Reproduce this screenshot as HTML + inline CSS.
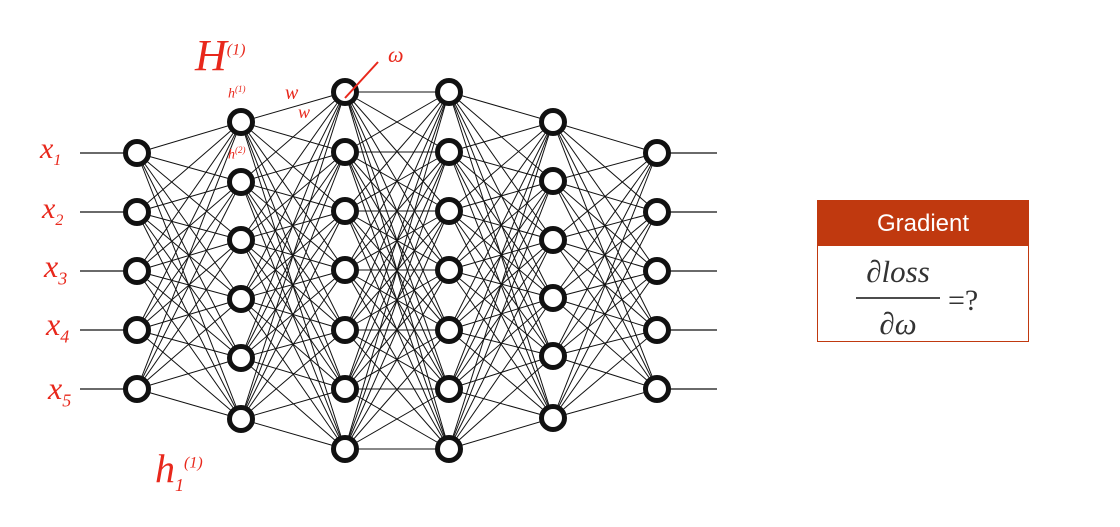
<!DOCTYPE html>
<html><head><meta charset="utf-8"><style>
body{margin:0;width:1120px;height:527px;background:#fff;overflow:hidden;position:relative;font-family:"Liberation Sans",sans-serif}
.box{position:absolute;left:817px;top:200px;width:210px;height:140px;border:1.5px solid #c0390f;background:#fff}
.hd{height:45px;background:#c0390f;color:#fff;font-size:24px;text-align:center;line-height:45px}
.hw{position:absolute;color:#e8281c;font-family:"Liberation Serif",serif;font-style:italic}
</style></head><body>
<svg id="s" width="1120" height="527" style="position:absolute;left:0;top:0"></svg>
<div class="box"><div class="hd">Gradient</div>
<svg width="210" height="95" style="display:block">
<text x="80" y="36" font-family="Liberation Serif,serif" font-style="italic" font-size="31" fill="#333" text-anchor="middle">∂loss</text>
<line x1="38" y1="52" x2="122" y2="52" stroke="#333" stroke-width="1.8"/>
<text x="80" y="88" font-family="Liberation Serif,serif" font-style="italic" font-size="31" fill="#333" text-anchor="middle">∂ω</text>
<text x="130" y="64" font-family="Liberation Serif,serif" font-size="30" fill="#333">=?</text>
</svg></div>
<div class="hw" style="left:40px;top:132px;font-size:30px">x<sub style="font-size:16px">1</sub></div>
<div class="hw" style="left:42px;top:192px;font-size:30px">x<sub style="font-size:16px">2</sub></div>
<div class="hw" style="left:44px;top:248px;font-size:32px">x<sub style="font-size:18px">3</sub></div>
<div class="hw" style="left:46px;top:306px;font-size:32px">x<sub style="font-size:18px">4</sub></div>
<div class="hw" style="left:48px;top:370px;font-size:32px">x<sub style="font-size:18px">5</sub></div>
<div class="hw" style="left:195px;top:30px;font-size:44px">H<sup style="font-size:16px">(1)</sup></div>
<div class="hw" style="left:155px;top:445px;font-size:40px">h<sub style="font-size:18px">1</sub><sup style="font-size:16px">(1)</sup></div>
<div class="hw" style="left:228px;top:84px;font-size:14px">h<sup style="font-size:9px">(1)</sup></div>
<div class="hw" style="left:228px;top:145px;font-size:14px">h<sup style="font-size:9px">(2)</sup></div>
<div class="hw" style="left:285px;top:82px;font-size:20px">w</div>
<div class="hw" style="left:298px;top:102px;font-size:18px">w</div>
<div class="hw" style="left:388px;top:42px;font-size:22px">ω</div>
<script>
var s=document.getElementById('s'),h='';
var X=[137,241,345,449,553,657];
var Y=[[153,212,271,330,389],[122,182,240,299,358,419],[92,152,211,270,330,389,449],[92,152,211,270,330,389,449],[122,181,240,298,356,418],[153,212,271,330,389]];
for(var c=0;c<5;c++)for(var i=0;i<Y[c].length;i++)for(var j=0;j<Y[c+1].length;j++)
h+='<line x1="'+X[c]+'" y1="'+Y[c][i]+'" x2="'+X[c+1]+'" y2="'+Y[c+1][j]+'" stroke="#111" stroke-width="1"/>';
for(var i=0;i<5;i++){h+='<line x1="80" y1="'+Y[0][i]+'" x2="130" y2="'+Y[0][i]+'" stroke="#111" stroke-width="1.2"/>';
h+='<line x1="665" y1="'+Y[5][i]+'" x2="717" y2="'+Y[5][i]+'" stroke="#111" stroke-width="1.2"/>';}
for(var c=0;c<6;c++)for(var i=0;i<Y[c].length;i++)h+='<circle cx="'+X[c]+'" cy="'+Y[c][i]+'" r="11.5" fill="#fff" stroke="#111" stroke-width="5"/>';
h+='<line x1="345" y1="98" x2="378" y2="62" stroke="#e8281c" stroke-width="2"/>';
s.innerHTML=h;
</script>
</body></html>
